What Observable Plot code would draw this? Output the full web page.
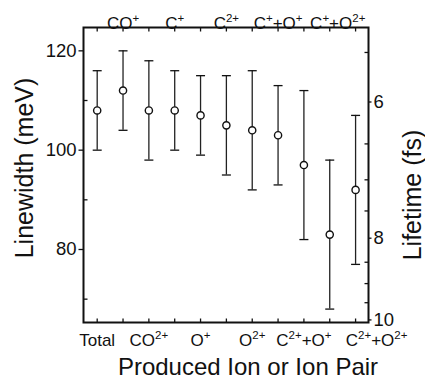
<!DOCTYPE html>
<html>
<head>
<meta charset="utf-8">
<script src="https://cdn.jsdelivr.net/npm/d3@7"></script>
<script src="https://cdn.jsdelivr.net/npm/@observablehq/plot@0.6"></script>
<style>
  html, body { margin: 0; padding: 0; background: #fff; }
  #chart svg { display: block; font-family: "Liberation Sans", Arial, Helvetica, sans-serif; }
</style>
</head>
<body>
<div id="chart"></div>
<script>
// ---- data ----
const categories = ["Total","CO^{+}","CO^{2+}","C^{+}","O^{+}","C^{2+}","O^{2+}","C^{+}+O^{+}","C^{2+}+O^{+}","C^{+}+O^{2+}","C^{2+}+O^{2+}"];
const linewidth = [108, 112, 108, 108, 107, 105, 104, 103, 97, 83, 92];
const errLow    = [100, 104,  98, 100,  99,  95,  92,  93, 82, 68, 77];
const errHigh   = [116, 120, 118, 116, 115, 115, 116, 113, 112, 98, 107];
const linewidthTicks = [80, 100, 120];
const linewidthMinor = [70, 90, 110];
const lifetimeTicks = [6, 8, 10];
const lifetimeMinor = [5.5, 6.5, 7, 7.5, 8.5, 9, 9.5];
const HBAR = 658.2; // meV·fs

const rows = categories.map((c, i) => ({i, label: c, v: linewidth[i], lo: errLow[i], hi: errHigh[i]}));
const X0 = -0.53, X1 = 10.5, Y0 = 65.3, Y1 = 124.7;

function line(x1, y1, x2, y2) {
  return {draw(ctx) { ctx.moveTo(x1, y1); ctx.lineTo(x2, y2); }};
}
const capSym = line(-4.5, 0, 4.5, 0);
const leftOut = line(-5, 0, 0, 0);
const leftIn = line(0, 0, 4, 0);
const rightOut = line(0, 0, 3, 0);
const rightIn = line(-4, 0, 0, 0);
const topIn = line(0, 0, 0, 4);
const botIn = line(0, -4, 0, 0);

const sty = {stroke: "#111", fill: "none", strokeWidth: 1.3};
const font = "Liberation Sans, Arial, sans-serif";

const topRows = rows.filter(d => d.i % 2 === 1);
const botRows = rows.filter(d => d.i % 2 === 0);

const chart = Plot.plot({
  width: 425, height: 390,
  marginLeft: 83, marginRight: 57, marginTop: 27, marginBottom: 68,
  style: {fontFamily: font, color: "#111", background: "#fff"},
  x: {type: "linear", domain: [X0, X1], axis: null},
  y: {type: "linear", domain: [Y0, Y1], axis: null},
  marks: [
    // error bars
    Plot.ruleX(rows, {x: "i", y1: "lo", y2: "hi", stroke: "#222", strokeWidth: 1.3}),
    Plot.dot(rows, {x: "i", y: "lo", symbol: capSym, ...sty}),
    Plot.dot(rows, {x: "i", y: "hi", symbol: capSym, ...sty}),
    Plot.dot(rows, {x: "i", y: "v", r: 3.6, fill: "white", stroke: "#111", strokeWidth: 1.4}),
    // ticks
    Plot.dot(linewidthTicks, {x: () => X0, y: d => d, symbol: leftOut, ...sty}),
    Plot.dot(linewidthMinor, {x: () => X0, y: d => d, symbol: leftIn, ...sty}),
    Plot.dot(lifetimeTicks, {x: () => X1, y: d => HBAR / d, symbol: rightOut, ...sty}),
    Plot.dot(lifetimeMinor, {x: () => X1, y: d => HBAR / d, symbol: rightIn, ...sty}),
    Plot.dot(rows, {x: "i", y: () => Y1, symbol: topIn, ...sty}),
    Plot.dot(rows, {x: "i", y: () => Y0, symbol: botIn, ...sty}),
    Plot.frame({stroke: "#111", strokeWidth: 2}),
    // tick labels
    Plot.text(linewidthTicks, {x: () => X0, y: d => d, text: d => String(d), textAnchor: "end", dx: -7, fontSize: 18.5, fill: "#111"}),
    Plot.text(lifetimeTicks, {x: () => X1, y: d => HBAR / d, text: d => String(d), textAnchor: "start", dx: 5, fontSize: 18.5, fill: "#111"}),
    Plot.text(topRows.filter(d => d.i !== 9), {x: "i", y: () => Y1, text: "label", lineAnchor: "bottom", dy: 1, fontSize: 17, fill: "#111"}),
    Plot.text(topRows.filter(d => d.i === 9), {x: "i", y: () => Y1, text: "label", lineAnchor: "bottom", dy: 1, dx: 8, fontSize: 17, fill: "#111"}),
    Plot.text(botRows.filter(d => d.i !== 10), {x: "i", y: () => Y0, text: "label", lineAnchor: "top", dy: 11, fontSize: 17, fill: "#111"}),
    Plot.text(botRows.filter(d => d.i === 10), {x: "i", y: () => Y0, text: "label", lineAnchor: "top", dy: 11, dx: 21, fontSize: 17, fill: "#111"}),
    // axis titles
    Plot.text(["Linewidth (meV)"], {frameAnchor: "left", textAnchor: "middle", rotate: -90, dx: -59, dy: -7, fontSize: 25, fill: "#111"}),
    Plot.text(["Lifetime (fs)"], {frameAnchor: "right", textAnchor: "middle", rotate: -90, dx: 44, dy: 20, fontSize: 25, fill: "#111"}),
    Plot.text(["Produced Ion or Ion Pair"], {frameAnchor: "bottom", textAnchor: "middle", dy: 52, dx: 22, fontSize: 24, fill: "#111"})
  ]
});

// render ^{...} as superscripts
chart.querySelectorAll("text").forEach(t => {
  const s = t.textContent;
  if (!s.includes("^{")) return;
  while (t.firstChild) t.removeChild(t.firstChild);
  const ns = "http://www.w3.org/2000/svg";
  const re = /\^\{([^}]*)\}/g;
  let last = 0, m, raised = false;
  const add = (txt, sup) => {
    const sp = document.createElementNS(ns, "tspan");
    sp.textContent = txt;
    if (sup) { sp.setAttribute("font-size", "11.5"); sp.setAttribute("dy", raised ? "0" : "-6.5"); raised = true; }
    else if (raised) { sp.setAttribute("dy", "6.5"); raised = false; }
    t.appendChild(sp);
  };
  while ((m = re.exec(s))) {
    if (m.index > last) add(s.slice(last, m.index), false);
    add(m[1], true);
    last = re.lastIndex;
  }
  if (last < s.length) add(s.slice(last), false);
});

document.getElementById("chart").appendChild(chart);
</script>
</body>
</html>
